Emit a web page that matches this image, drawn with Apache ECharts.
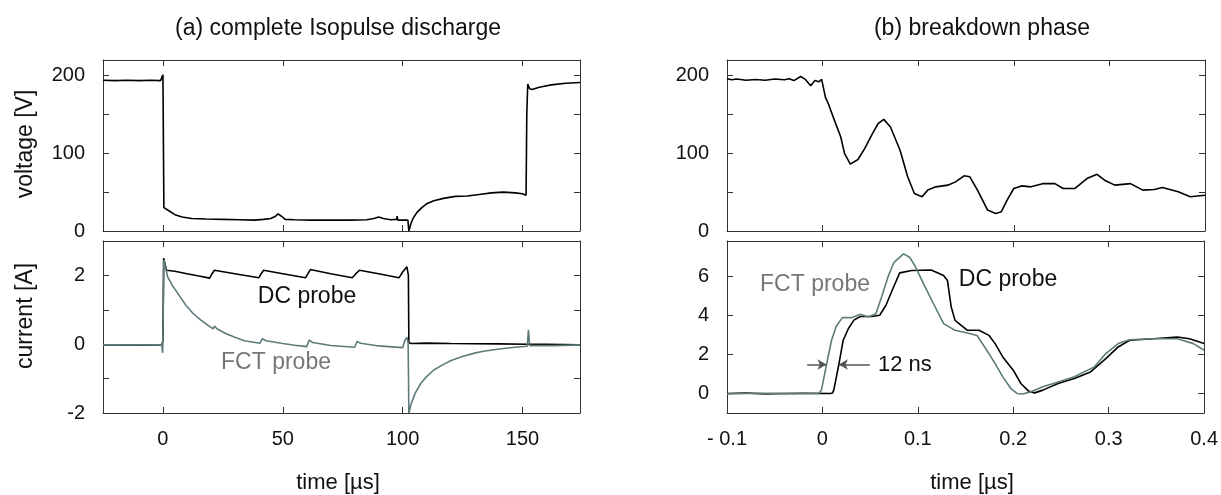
<!DOCTYPE html>
<html><head><meta charset="utf-8">
<script src="https://cdn.jsdelivr.net/npm/echarts@6/dist/echarts.min.js"></script>
<style>html,body{margin:0;padding:0;background:#fff}#c{width:1221px;height:495px}</style>
</head><body><div id="c"></div><script>
// ---------- data: (a) complete Isopulse discharge, time in µs ----------
const aVoltage = [[-25,194],[-20,193.5],[-15,194],[-10,193.5],[-5,194],[-1,193.5],[-0.3,194],[0,201],[0.4,30],[2,27],[5,21],[8,18],[12,16],[18,15.5],[25,15],[32,14.5],[38,14],[42,15],[45,16],[47,19],[48,22],[49.5,19],[51,15],[55,14.5],[62,14],[70,14],[78,14],[85,14.5],[88,16],[90,18],[92,16],[95,14.5],[97.5,15],[97.7,19],[98,14],[102.2,14],[102.6,0],[103.5,10],[104.5,17],[106,24],[108,30],[110,35],[113,39],[117,42],[122,44.5],[127,45],[132,47],[137,49],[142,50],[147,49],[150,48],[151.5,46],[151.8,150],[152.2,189],[153,183],[154,182],[157,185],[162,188],[168,190],[174,191]];
const aCurrentDC = [[-25,-0.02],[-10,-0.03],[-0.5,-0.02],[0,0.1],[0.3,2.5],[1.5,2.15],[5,2.12],[10,2.05],[15,1.98],[19.5,1.92],[20.5,2.05],[21.5,2.15],[30,2.05],[40,1.93],[41,2.05],[42,2.15],[50,2.05],[59.5,1.93],[60.5,2.05],[61.5,2.17],[70,2.05],[79,1.93],[80.5,2.05],[82,2.15],[90,2.05],[98.5,1.93],[100,2.1],[101.8,2.25],[102.4,2.0],[102.6,0.05],[103.5,0.02],[110,0.03],[120,0.02],[140,0.01],[152,0.0],[152.5,0.05],[160,0.0],[174,-0.02]];
const aCurrentFCT = [[-25,-0.02],[-10,-0.02],[-0.5,-0.02],[-0.1,-0.25],[0.4,2.45],[2,1.95],[4,1.7],[6,1.5],[9.5,1.14],[12.5,0.9],[15.7,0.71],[18.5,0.56],[21,0.45],[21.5,0.53],[22.5,0.45],[26,0.32],[30,0.2],[34,0.1],[40.5,0.03],[41.5,0.16],[43,0.1],[50,0.02],[55,-0.03],[60,-0.07],[61,0.12],[62.5,0.05],[70,-0.04],[80,-0.09],[81,0.08],[82.5,0.03],[90,-0.05],[100,-0.1],[101,0.12],[101.8,0.2],[102.3,0.05],[102.6,-2.0],[103.5,-1.75],[105.2,-1.43],[107.5,-1.15],[110,-0.94],[113,-0.75],[116.7,-0.6],[120,-0.48],[124.9,-0.36],[130,-0.26],[133.2,-0.21],[138,-0.16],[143,-0.12],[148,-0.08],[152,-0.06],[152.5,0.42],[153,-0.04],[158,-0.04],[163,-0.04],[174,-0.02]];

// ---------- data: (b) breakdown phase, time in µs ----------
const bVoltage = [[-0.1,196],[-0.095,194.5],[-0.09,195.5],[-0.08,194],[-0.07,195],[-0.06,194],[-0.05,195.5],[-0.04,194.5],[-0.035,196],[-0.03,193.5],[-0.023,198.7],[-0.018,195],[-0.0125,187],[-0.008,193.6],[-0.004,192],[-0.001,195],[0.001,193],[0.003,172],[0.006,163.7],[0.0125,142],[0.019,121],[0.023,99.6],[0.029,86],[0.031,84.6],[0.037,92],[0.044,106],[0.052,125],[0.058,138],[0.064,143.6],[0.071,133.8],[0.081,103.8],[0.089,69.7],[0.096,48.3],[0.104,44],[0.110,52.6],[0.1185,56.8],[0.131,59],[0.139,63.2],[0.148,71],[0.154,69.7],[0.162,52.6],[0.1726,26.9],[0.181,22.6],[0.187,24.8],[0.193,39.7],[0.2,54.7],[0.208,58],[0.218,56.8],[0.231,61],[0.243,61],[0.2516,54.7],[0.264,54.7],[0.2765,67.5],[0.287,73],[0.295,65.4],[0.3056,59],[0.322,61],[0.335,52.6],[0.347,53.4],[0.3555,56],[0.372,50.4],[0.3846,44],[0.4,46]];
const bCurrentDC = [[-0.1,0],[-0.08,0.02],[-0.06,-0.02],[-0.04,0],[-0.02,0.01],[0.0083,0],[0.0105,0.02],[0.0119,0.17],[0.0172,1.48],[0.0217,2.71],[0.027,3.3],[0.033,3.75],[0.0395,3.94],[0.052,3.94],[0.060,4.0],[0.0665,4.5],[0.073,5.27],[0.081,6.17],[0.0936,6.29],[0.114,6.32],[0.127,6.03],[0.131,5.78],[0.135,4.42],[0.139,3.74],[0.152,3.23],[0.164,3.23],[0.1746,2.97],[0.181,2.55],[0.189,1.87],[0.2,1.19],[0.208,0.51],[0.216,0.12],[0.2225,0.03],[0.231,0.17],[0.247,0.51],[0.264,0.76],[0.281,1.1],[0.297,1.78],[0.31,2.38],[0.322,2.72],[0.347,2.8],[0.372,2.89],[0.3846,2.8],[0.4,2.55]];
const bCurrentFCT = [[-0.1,-0.02],[-0.08,0],[-0.06,0.01],[-0.04,-0.01],[-0.02,0],[-0.004,0],[-0.002,0.02],[-0.001,0.17],[0.0043,1.48],[0.0095,2.71],[0.0146,3.45],[0.021,3.88],[0.031,3.88],[0.0395,4.05],[0.048,3.91],[0.056,4.08],[0.062,4.93],[0.0686,5.95],[0.075,6.71],[0.085,7.14],[0.0915,6.97],[0.0977,6.46],[0.106,5.61],[0.1164,4.59],[0.127,3.57],[0.139,3.23],[0.152,3.09],[0.162,2.97],[0.170,2.38],[0.181,1.53],[0.189,0.85],[0.1975,0.25],[0.204,0],[0.21,-0.03],[0.218,0.08],[0.231,0.34],[0.247,0.59],[0.264,0.85],[0.285,1.36],[0.297,2.04],[0.31,2.55],[0.322,2.75],[0.347,2.8],[0.372,2.8],[0.3888,2.55],[0.4,2.21]];

// 12 ns delay annotation (data coordinates, µs / A)
const delayArrowLeft = [[-0.016,1.48],[0.0043,1.48]];
const delayArrowRight = [[0.0496,1.48],[0.0172,1.48]];

// ---------- ticks / labels ----------
const aTimeTicks = [0,50,100,150];
const aTimeLabels = ['0','50','100','150'];
const voltageTicks = [0,50,100,150,200];
const voltageLabels = {0:'0',100:'100',200:'200'};
const aCurrentTicks = [-2,-1,0,1,2];
const aCurrentLabels = {'-2':'-2','0':'0','2':'2'};
const bTimeTicks = [-0.1,0,0.1,0.2,0.3,0.4];
const bTimeLabels = ['- 0.1','0','0.1','0.2','0.3','0.4'];
const bCurrentTicks = [0,2,4,6];
const bCurrentLabels = {'0':'0','2':'2','4':'4','6':'6'};

const FONT = 'Liberation Sans, Arial, Helvetica, sans-serif';
const FRAME = '#333';
const FCT_COLOR = '#5e7b7b';

const grids = [
  {left:103, width:477, top:60, height:171},
  {left:103, width:477, top:241, height:172},
  {left:727, width:478, top:60, height:171},
  {left:727, width:478, top:241, height:172}
];

function axisBase(gridIndex, min, max, position, ticks) {
  return {
    type:'value', gridIndex, min, max, position,
    axisLine:{show:true, onZero:false, lineStyle:{color:FRAME, width:1}},
    axisTick:{show:true, inside:true, length:6, customValues:ticks, lineStyle:{color:FRAME, width:1}},
    splitLine:{show:false},
    axisLabel:{show:false}
  };
}
function withLabels(ax, values, fmt, margin) {
  ax.axisLabel = {show:true, customValues:values, formatter:fmt, margin,
    fontFamily:FONT, fontSize:20, color:'#111'};
  return ax;
}
function nearestLabel(ticks, labels) {
  return v => { let bi=0; ticks.forEach((t,i)=>{ if (Math.abs(t-v)<Math.abs(ticks[bi]-v)) bi=i; }); return labels[bi]; };
}

const xAxes = [], yAxes = [];
// grid 0: (a) voltage
xAxes.push(axisBase(0,-25,174,'bottom',aTimeTicks));
xAxes.push(axisBase(0,-25,174,'top',aTimeTicks));
yAxes.push(withLabels(axisBase(0,0,220,'left',voltageTicks),[0,100,200],v=>voltageLabels[Math.round(v)],18));
yAxes.push(axisBase(0,0,220,'right',voltageTicks));
// grid 1: (a) current
xAxes.push(withLabels(axisBase(1,-25,174,'bottom',aTimeTicks),aTimeTicks,nearestLabel(aTimeTicks,aTimeLabels),16));
xAxes.push(axisBase(1,-25,174,'top',aTimeTicks));
yAxes.push(withLabels(axisBase(1,-2,3,'left',aCurrentTicks),[-2,0,2],v=>aCurrentLabels[String(Math.round(v))],18));
yAxes.push(axisBase(1,-2,3,'right',aCurrentTicks));
// grid 2: (b) voltage
xAxes.push(axisBase(2,-0.1,0.4,'bottom',bTimeTicks));
xAxes.push(axisBase(2,-0.1,0.4,'top',bTimeTicks));
yAxes.push(withLabels(axisBase(2,0,220,'left',voltageTicks),[0,100,200],v=>voltageLabels[Math.round(v)],18));
yAxes.push(axisBase(2,0,220,'right',voltageTicks));
// grid 3: (b) current
xAxes.push(withLabels(axisBase(3,-0.1,0.4,'bottom',bTimeTicks),bTimeTicks,nearestLabel(bTimeTicks,bTimeLabels),16));
xAxes.push(axisBase(3,-0.1,0.4,'top',bTimeTicks));
yAxes.push(withLabels(axisBase(3,-1,7.8,'left',bCurrentTicks),bCurrentTicks,v=>bCurrentLabels[String(Math.round(v))],18));
yAxes.push(axisBase(3,-1,7.8,'right',bCurrentTicks));

function line(name, data, xi, yi, color, extra) {
  return Object.assign({
    name, type:'line', data, xAxisIndex:xi, yAxisIndex:yi,
    showSymbol:false, symbol:'none', animation:false,
    lineStyle:{color, width:1.6}, itemStyle:{color}
  }, extra||{});
}

const series = [
  line('voltage a', aVoltage, 0, 0, '#000'),
  line('DC probe a', aCurrentDC, 2, 2, '#000'),
  line('FCT probe a', aCurrentFCT, 2, 2, FCT_COLOR),
  line('voltage b', bVoltage, 4, 4, '#000'),
  line('DC probe b', bCurrentDC, 6, 6, '#000', {
    markLine:{silent:true, animation:false, symbol:['none','arrow'], symbolSize:[8,9],
      label:{show:false},
      lineStyle:{color:'#555', width:1.5, type:'solid'},
      itemStyle:{color:'#111'},
      data:[
        [{coord:delayArrowLeft[0]},{coord:delayArrowLeft[1]}],
        [{coord:delayArrowRight[0]},{coord:delayArrowRight[1]}]
      ]}
  }),
  line('FCT probe b', bCurrentFCT, 6, 6, FCT_COLOR)
];

function txt(text, x, y, opts) {
  return Object.assign({type:'text', x, y, style:Object.assign({text, fontFamily:FONT, fontSize:20, fill:'#111', align:'center', verticalAlign:'middle'}, (opts&&opts.style)||{})}, opts&&opts.rotation!==undefined?{rotation:opts.rotation}:{});
}

const graphic = [
  txt('(a) complete Isopulse discharge', 338, 29, {style:{fontSize:23}}),
  txt('(b) breakdown phase', 982, 29, {style:{fontSize:23}}),
  txt('voltage [V]', 26, 144, {rotation:Math.PI/2, style:{fontSize:23}}),
  txt('current [A]', 26, 316, {rotation:Math.PI/2, style:{fontSize:23}}),
  txt('time [µs]', 338, 483, {style:{fontSize:22}}),
  txt('time [µs]', 972, 483, {style:{fontSize:22}}),
  txt('DC probe', 307, 297, {style:{fontSize:23}}),
  txt('FCT probe', 276, 363, {style:{fontSize:23, fill:'#777'}}),
  txt('FCT probe', 815, 285, {style:{fontSize:23, fill:'#777'}}),
  txt('DC probe', 1008, 280, {style:{fontSize:23}}),
  txt('12 ns', 878, 365, {style:{fontSize:22, align:'left'}})
];

const chart = echarts.init(document.getElementById('c'), null, {renderer:'canvas'});
chart.setOption({
  animation:false,
  backgroundColor:'#fff',
  grid:grids,
  xAxis:xAxes,
  yAxis:yAxes,
  series,
  graphic
});
</script></body></html>
